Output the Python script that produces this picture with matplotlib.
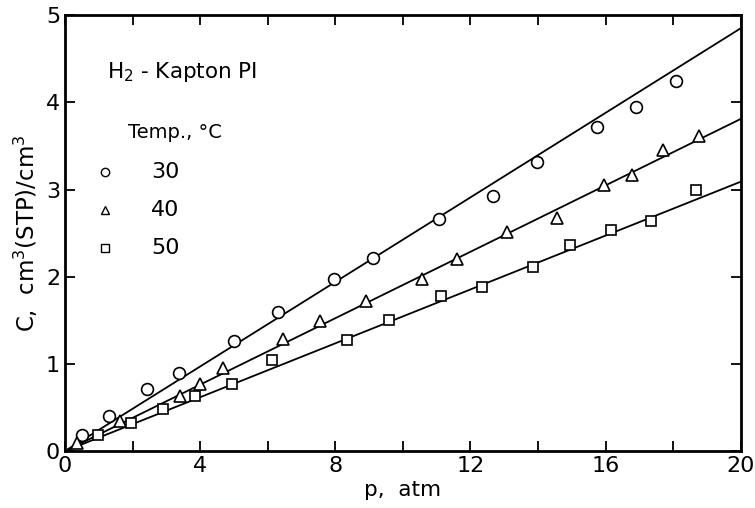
import matplotlib
matplotlib.use("Agg")
import matplotlib.pyplot as plt
import numpy as np

# data
p30 = [0.50, 1.31, 2.43, 3.37, 5.00, 6.30, 7.96, 9.11, 11.07, 12.66, 13.96, 15.74, 16.89, 18.10]
c30 = [0.18, 0.40, 0.71, 0.90, 1.26, 1.60, 1.98, 2.22, 2.66, 2.93, 3.32, 3.72, 3.95, 4.24]
p40 = [0.36, 1.63, 3.40, 4.00, 4.67, 6.45, 7.55, 8.90, 10.56, 11.60, 13.08, 14.55, 15.95, 16.77, 17.69, 18.76]
c40 = [0.09, 0.34, 0.63, 0.77, 0.95, 1.29, 1.49, 1.72, 1.98, 2.20, 2.51, 2.67, 3.05, 3.17, 3.45, 3.61]
p50 = [0.98, 1.95, 2.90, 3.85, 4.94, 6.12, 8.34, 9.59, 11.12, 12.33, 13.85, 14.94, 16.15, 17.34, 18.67]
c50 = [0.18, 0.32, 0.48, 0.63, 0.77, 1.04, 1.28, 1.50, 1.78, 1.88, 2.11, 2.36, 2.54, 2.64, 3.00]
# fitted line slopes (C = S * p)
slopes = [0.2425, 0.1905, 0.1545]
temps = ["30", "40", "50"]
markers = ["o", "^", "s"]
msizes = [8.5, 8.5, 6.5]

fig = plt.figure(figsize=(7.55, 5.08), dpi=100)
ax = fig.add_axes([0.086, 0.112, 0.895, 0.858])

pline = np.array([0.0, 20.0])
for s in slopes:
    ax.plot(pline, s * pline, color="black", lw=1.3, zorder=2)

for (px, cy), m, ms in zip([(p30, c30), (p40, c40), (p50, c50)], markers, msizes):
    ax.plot(px, cy, linestyle="none", marker=m, ms=ms, mfc="white", mec="black",
            mew=1.2, zorder=3)

ax.set_xlim(0, 20)
ax.set_ylim(0, 5)
ax.set_xticks(np.arange(0, 21, 4))
ax.set_xticks(np.arange(0, 21, 2), minor=True)
ax.set_xticklabels(["0", "4", "8", "12", "16", "20"])
ax.set_yticks(np.arange(0, 6, 1))
ax.tick_params(which="both", direction="in", top=True, right=True, width=1.3,
               labelsize=16)
ax.tick_params(which="major", length=7)
ax.tick_params(which="minor", length=7)
for sp in ax.spines.values():
    sp.set_linewidth(2)

ax.set_xlabel("p,  atm", fontsize=15.5, labelpad=3)
ax.set_ylabel("C,  cm$^3$(STP)/cm$^3$", fontsize=16.5, labelpad=4)

ax.text(0.062, 0.87, "H$_2$ - Kapton PI", transform=ax.transAxes, fontsize=15.5,
        va="center", ha="left")
ax.text(0.093, 0.73, "Temp., °C", transform=ax.transAxes, fontsize=14,
        va="center", ha="left")
ys = [0.64, 0.553, 0.466]
for y, m, t in zip(ys, markers, temps):
    ax.plot([0.06], [y], transform=ax.transAxes, marker=m, ms=6, mfc="white",
            mec="black", mew=1.0, linestyle="none")
    ax.text(0.128, y, t, transform=ax.transAxes, fontsize=16, va="center", ha="left")

fig.savefig("out.png", dpi=100)
